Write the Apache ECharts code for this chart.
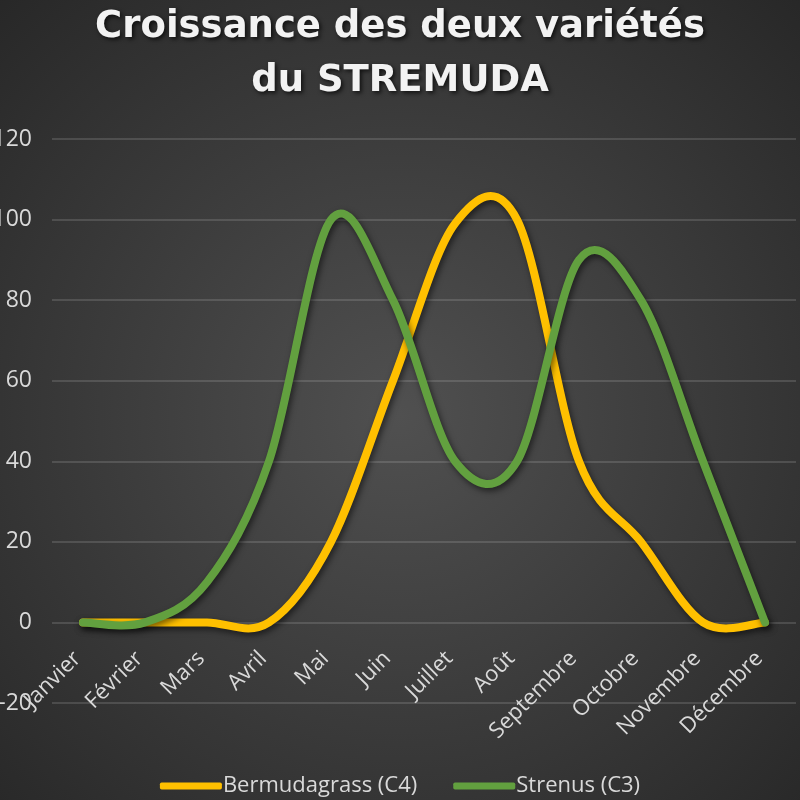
<!DOCTYPE html>
<html>
<head>
<meta charset="utf-8">
<script src="https://cdn.jsdelivr.net/npm/echarts@6/dist/echarts.min.js"></script>
<style>html,body{margin:0;padding:0;background:#333;}#c{width:800px;height:800px;}</style>
</head>
<body>
<div id="c"></div>
<script>
const categories = ['Janvier','Février','Mars','Avril','Mai','Juin','Juillet','Août','Septembre','Octobre','Novembre','Décembre'];
const bermudagrass = [0, 0, 0, 0, 20, 60, 99, 100, 40, 20, 0, 0];
const strenus = [0, 0, 10, 40, 100, 80, 40, 40, 90, 80, 40, 0];
const yTicks = { min: -20, max: 120, interval: 20 };
const seriesNames = ['Bermudagrass (C4)', 'Strenus (C3)'];
const seriesColors = ['#FFC000', '#62A03F'];
const titleText = 'Croissance des deux variétés\ndu STREMUDA';

const chart = echarts.init(document.getElementById('c'), null, { renderer: 'canvas' });
const labelColor = '#d9d9d9';
const font = '"Open Sans", "Noto Sans", sans-serif';

// Smoothed line (Excel-like Catmull-Rom) drawn through the chart's own scales via api.coord
function curveSeries(name, values, color) {
  return {
    type: 'custom', name: name, coordinateSystem: 'cartesian2d',
    data: values.map(function (v, i) { return [i, v]; }),
    encode: { x: 0, y: 1 },
    itemStyle: { color: color },
    clip: false,
    renderItem: function (params, api) {
      if (params.dataIndex !== 0) return null;
      const pts = values.map(function (v, i) { return api.coord([i, v]); });
      const n = pts.length;
      let d = 'M' + pts[0][0] + ' ' + pts[0][1];
      for (let i = 0; i < n - 1; i++) {
        const p0 = pts[Math.max(i - 1, 0)], p1 = pts[i], p2 = pts[i + 1], p3 = pts[Math.min(i + 2, n - 1)];
        const c1x = p1[0] + (p2[0] - p0[0]) / 6, c1y = p1[1] + (p2[1] - p0[1]) / 6;
        const c2x = p2[0] - (p3[0] - p1[0]) / 6, c2y = p2[1] - (p3[1] - p1[1]) / 6;
        d += ' C' + c1x + ' ' + c1y + ' ' + c2x + ' ' + c2y + ' ' + p2[0] + ' ' + p2[1];
      }
      return {
        type: 'path',
        shape: { pathData: d },
        style: {
          fill: null, stroke: color, lineWidth: 8, lineCap: 'round', lineJoin: 'round',
          shadowColor: 'rgba(0,0,0,0.55)', shadowBlur: 6, shadowOffsetX: 2, shadowOffsetY: 3
        }
      };
    }
  };
}

chart.setOption({
  backgroundColor: {
    type: 'radial', x: 0.5, y: 0.52, r: 0.75,
    colorStops: [{ offset: 0, color: '#505050' }, { offset: 1, color: '#262626' }]
  },
  title: {
    text: titleText,
    left: 'center', top: -5,
    textStyle: {
      color: '#f2f2f2', fontFamily: '"DejaVu Sans", sans-serif', fontWeight: 'bold', fontSize: 37,
      lineHeight: 54,
      textShadowColor: 'rgba(0,0,0,0.7)', textShadowBlur: 4, textShadowOffsetX: 2, textShadowOffsetY: 2
    }
  },
  legend: {
    top: 770, left: 'center',
    itemWidth: 62, itemHeight: 7, itemGap: 36,
    textStyle: { color: labelColor, fontFamily: font, fontSize: 22, padding: [0, 0, 0, -4] },
    data: [
      { name: seriesNames[0], icon: 'roundRect', itemStyle: { color: seriesColors[0] } },
      { name: seriesNames[1], icon: 'roundRect', itemStyle: { color: seriesColors[1] } }
    ]
  },
  grid: { left: 52, right: 4, top: 139, bottom: 97, outerBoundsMode: 'none', containLabel: false },
  xAxis: {
    type: 'category', data: categories, boundaryGap: true,
    offset: -80.57,
    axisLine: { show: false, onZero: false },
    axisTick: { show: false },
    axisLabel: { color: labelColor, fontFamily: font, fontSize: 22, rotate: 45, margin: 27, interval: 0, padding: [0, 8, 0, 0] }
  },
  yAxis: {
    type: 'value', min: yTicks.min, max: yTicks.max, interval: yTicks.interval,
    axisLine: { show: false }, axisTick: { show: false },
    axisLabel: { color: labelColor, fontFamily: font, fontSize: 23, margin: 20 },
    splitLine: { lineStyle: { color: 'rgba(217,217,217,0.22)', width: 1.5 } }
  },
  series: [
    curveSeries(seriesNames[0], bermudagrass, seriesColors[0]),
    curveSeries(seriesNames[1], strenus, seriesColors[1])
  ]
});
</script>
</body>
</html>
